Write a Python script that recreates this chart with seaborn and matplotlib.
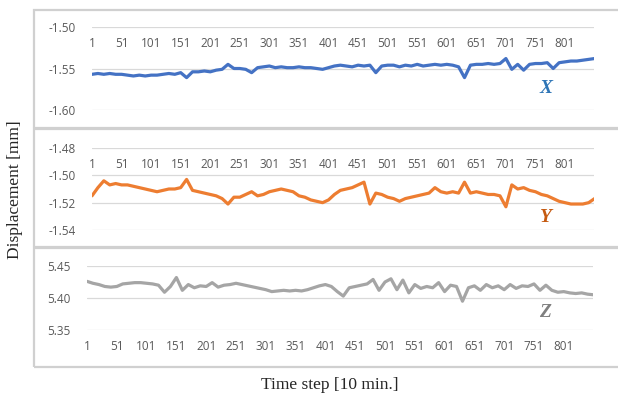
import numpy as np
import pandas as pd
import matplotlib.pyplot as plt
from matplotlib.patches import Rectangle
import seaborn as sns

# ---------------- data (every 10th time step) ----------------
steps = list(range(1, 852, 10))

disp_x = [-1.557, -1.556, -1.557, -1.556, -1.557, -1.557, -1.558, -1.559, -1.558, -1.559,
          -1.558, -1.558, -1.557, -1.556, -1.557, -1.555, -1.561, -1.554, -1.554, -1.553,
          -1.554, -1.552, -1.551, -1.545, -1.550, -1.550, -1.551, -1.555, -1.549, -1.548,
          -1.547, -1.549, -1.548, -1.549, -1.549, -1.548, -1.549, -1.549, -1.550, -1.551,
          -1.549, -1.547, -1.546, -1.547, -1.548, -1.546, -1.547, -1.546, -1.555, -1.547,
          -1.546, -1.546, -1.548, -1.546, -1.547, -1.545, -1.547, -1.546, -1.545, -1.546,
          -1.545, -1.546, -1.548, -1.561, -1.546, -1.545, -1.545, -1.544, -1.545, -1.544,
          -1.538, -1.551, -1.545, -1.552, -1.545, -1.544, -1.544, -1.543, -1.550, -1.543,
          -1.542, -1.541, -1.541, -1.540, -1.539, -1.538]

disp_y = [-1.515, -1.509, -1.504, -1.507, -1.506, -1.507, -1.507, -1.508, -1.509, -1.510,
          -1.511, -1.512, -1.511, -1.510, -1.510, -1.509, -1.503, -1.511, -1.512, -1.513,
          -1.514, -1.515, -1.517, -1.521, -1.516, -1.516, -1.514, -1.512, -1.515, -1.514,
          -1.512, -1.511, -1.510, -1.511, -1.512, -1.515, -1.516, -1.518, -1.519, -1.520,
          -1.518, -1.514, -1.511, -1.510, -1.509, -1.507, -1.505, -1.521, -1.513, -1.514,
          -1.516, -1.517, -1.519, -1.517, -1.516, -1.515, -1.514, -1.513, -1.509, -1.512,
          -1.513, -1.512, -1.513, -1.505, -1.513, -1.512, -1.513, -1.514, -1.514, -1.515,
          -1.523, -1.507, -1.510, -1.509, -1.511, -1.512, -1.514, -1.515, -1.517, -1.519,
          -1.520, -1.521, -1.521, -1.521, -1.520, -1.517]

disp_z = [5.426, 5.423, 5.421, 5.418, 5.417, 5.418, 5.422, 5.423, 5.424, 5.424,
          5.423, 5.422, 5.420, 5.409, 5.418, 5.432, 5.412, 5.421, 5.416, 5.419,
          5.418, 5.424, 5.417, 5.420, 5.421, 5.423, 5.421, 5.419, 5.417, 5.415,
          5.413, 5.410, 5.411, 5.412, 5.411, 5.412, 5.411, 5.413, 5.416, 5.419,
          5.421, 5.418, 5.410, 5.403, 5.416, 5.418, 5.420, 5.422, 5.429, 5.412,
          5.425, 5.430, 5.413, 5.428, 5.408, 5.421, 5.415, 5.418, 5.416, 5.424,
          5.410, 5.420, 5.418, 5.395, 5.416, 5.419, 5.412, 5.421, 5.416, 5.419,
          5.413, 5.421, 5.415, 5.419, 5.418, 5.422, 5.412, 5.420, 5.412, 5.409,
          5.410, 5.408, 5.407, 5.408, 5.406, 5.405]

x_ticks = list(range(1, 802, 50))

yticks_x = [-1.60, -1.55, -1.50]
yticks_y = [-1.54, -1.52, -1.50, -1.48]
yticks_z = [5.35, 5.40, 5.45]

df = pd.DataFrame({'step': steps, 'X': disp_x, 'Y': disp_y, 'Z': disp_z})

# ---------------- plotting ----------------
sns.set_style("white")
plt.rcParams['font.family'] = ['Open Sans', 'DejaVu Sans']

W, H = 618, 396
fig = plt.figure(figsize=(W / 100, H / 100), dpi=100)

def px_axes(left, top, right, bottom):
    return fig.add_axes([left / W, 1 - bottom / H, (right - left) / W, (bottom - top) / H])

# chart-area frames
for top, bottom in [(10, 128), (129, 247), (248, 367)]:
    fig.patches.append(Rectangle((34 / W, 1 - bottom / H), (640 - 34) / W, (bottom - top) / H,
                                 transform=fig.transFigure, fill=False,
                                 edgecolor='#D0D0D0', linewidth=1.6))

panels = [
    ('X', '#4472C4', (-1.60, -1.50), yticks_x, (92, 27, 594, 110), '#2E75B6', 0.265, True),
    ('Y', '#ED7D31', (-1.54, -1.48), yticks_y, (92, 148, 594, 230), '#C55A11', 0.15, True),
    ('Z', '#A5A5A5', (5.35, 5.45), yticks_z, (87, 266, 593, 330), '#7F7F7F', 0.27, False),
]

for col, color, ylim, yt, box, lab_color, lab_y, axis_top in panels:
    ax = px_axes(*box)
    sns.lineplot(data=df, x='step', y=col, color=color, linewidth=2.3, ax=ax)
    ax.set_xlim(1, 850)
    ax.set_ylim(*ylim)
    ax.set_yticks(yt)
    ax.set_yticklabels(['{:.2f}'.format(v) for v in yt])
    ax.set_xticks(x_ticks)
    ax.set_xticklabels([str(t) for t in x_ticks])
    ax.grid(axis='y', color='#D9D9D9', linewidth=0.9)
    ax.grid(axis='x', visible=False)
    for s in ax.spines.values():
        s.set_visible(False)
    if axis_top:
        ax.spines['bottom'].set_position(('axes', 1.0))
    ax.tick_params(axis='x', length=0, pad=7, labelsize=8.5, labelcolor='#595959')
    ax.tick_params(axis='y', length=0, pad=12, labelsize=8.5, labelcolor='#595959')
    ax.set_xlabel('')
    ax.set_ylabel('')
    ax.text(0.905, lab_y, col, transform=ax.transAxes, color=lab_color,
            fontsize=14, fontstyle='italic', fontweight='bold',
            family='Liberation Serif', ha='center', va='center')

fig.text(330 / W, 1 - 385 / H, 'Time step [10 min.]', family='Liberation Serif',
         fontsize=12.5, ha='center', va='center')
fig.text(15 / W, 1 - 190 / H, 'Displacement [mm]', family='Liberation Serif',
         fontsize=12.5, ha='center', va='center', rotation=90)

fig.savefig('out.png', dpi=100)
